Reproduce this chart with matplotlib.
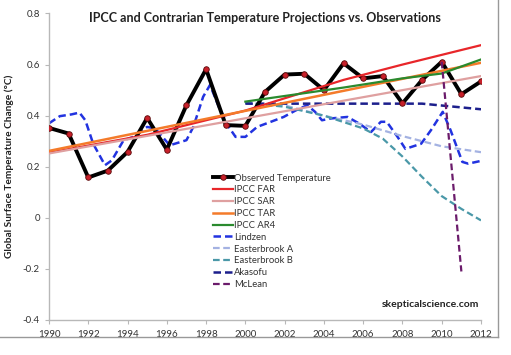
import matplotlib
matplotlib.use("Agg")
import matplotlib.pyplot as plt
from matplotlib.lines import Line2D

plt.rcParams["font.family"] = ["Lato", "DejaVu Sans"]

# ── Data ────────────────────────────────────────────────────────────────────
obs_years = list(range(1990, 2013))
obs_temp = [0.352, 0.33, 0.158, 0.185, 0.258, 0.391, 0.267, 0.441, 0.582, 0.363,
            0.36, 0.493, 0.561, 0.564, 0.50, 0.605, 0.546, 0.555, 0.448, 0.54,
            0.611, 0.484, 0.534]

far_years = [1990, 1995, 2000, 2005, 2008, 2012]
far_temp = [0.255, 0.325, 0.42, 0.54, 0.60, 0.676]

sar_years = [1990, 2012]
sar_temp = [0.252, 0.555]

tar_years = [1990, 2012]
tar_temp = [0.262, 0.607]

ar4_years = [2000, 2005, 2008, 2010, 2012]
ar4_temp = [0.455, 0.51, 0.546, 0.565, 0.62]

lindzen_years = [1990.0, 1990.55, 1991.15, 1991.55, 1991.85, 1992.25, 1992.85, 1993.2,
                 1993.8, 1994.3, 1995.0, 1995.4, 1996.15, 1997.0, 1997.35, 1997.85,
                 1998.2, 1998.65, 1999.15, 1999.5, 2000.0, 2000.6, 2001.3, 2001.95,
                 2002.55, 2003.15, 2003.55, 2003.9, 2004.35, 2005.2, 2005.8, 2006.4,
                 2006.9, 2007.2, 2007.75, 2008.15, 2008.95, 2009.45, 2010.05, 2010.45,
                 2011.05, 2011.35, 2012.0]
lindzen_temp = [0.37, 0.398, 0.405, 0.412, 0.382, 0.29, 0.206, 0.225,
                0.304, 0.317, 0.356, 0.35, 0.284, 0.304, 0.356, 0.474,
                0.52, 0.434, 0.356, 0.317, 0.317, 0.356, 0.376, 0.395,
                0.42, 0.441, 0.415, 0.382, 0.389, 0.395, 0.369, 0.336,
                0.376, 0.376, 0.317, 0.27, 0.29, 0.343, 0.415, 0.343,
                0.219, 0.212, 0.223]

eastA_years = [2000, 2002, 2004, 2006, 2008, 2010, 2012]
eastA_temp = [0.45, 0.44, 0.40, 0.365, 0.32, 0.28, 0.257]

eastB_years = [2000, 2002, 2004, 2006, 2007, 2008, 2009, 2010, 2011, 2012]
eastB_temp = [0.45, 0.435, 0.40, 0.35, 0.31, 0.24, 0.16, 0.085, 0.035, -0.01]

akasofu_years = [2000, 2009, 2012]
akasofu_temp = [0.447, 0.447, 0.425]

mclean_years = [2010, 2011]
mclean_temp = [0.611, -0.21]

# ── Styling ─────────────────────────────────────────────────────────────────
_RED = "#e8262a"
_PINK = "#dfa0a0"
_ORANGE = "#f47b2a"
_GREEN = "#2a8a2e"
_BLUE = "#2233e0"
_LIGHTBLUE = "#a4b2e2"
_TEAL = "#4a98a8"
_NAVY = "#1c1f8c"
_PURPLE = "#6b1b6b"
_SPINE = "#b8b8b8"
_TEXT = "#333333"

fig = plt.figure(figsize=(5.11, 3.55), dpi=100)
ax = fig.add_axes([0.0959, 0.0986, 0.8454, 0.8634])

dash = (0, (3, 1.6))
ax.plot(obs_years, obs_temp, color="black", lw=2.8, marker="o", ms=4,
        mfc="#c8202a", mec="#5a0a0a", mew=0.6, zorder=3, label="Observed Temperature")
ax.plot(far_years, far_temp, color=_RED, lw=1.6, zorder=4, label="IPCC FAR")
ax.plot(sar_years, sar_temp, color=_PINK, lw=1.6, zorder=4, label="IPCC SAR")
ax.plot(tar_years, tar_temp, color=_ORANGE, lw=1.8, zorder=4, label="IPCC TAR")
ax.plot(ar4_years, ar4_temp, color=_GREEN, lw=1.6, zorder=4, label="IPCC AR4")
ax.plot(lindzen_years, lindzen_temp, color=_BLUE, lw=1.8, ls=dash, zorder=2, label="Lindzen")
ax.plot(eastA_years, eastA_temp, color=_LIGHTBLUE, lw=1.6, ls=dash, zorder=2, label="Easterbrook A")
ax.plot(eastB_years, eastB_temp, color=_TEAL, lw=1.6, ls=dash, zorder=2, label="Easterbrook B")
ax.plot(akasofu_years, akasofu_temp, color=_NAVY, lw=1.8, ls=dash, zorder=2, label="Akasofu")
ax.plot(mclean_years, mclean_temp, color=_PURPLE, lw=1.6, ls=dash, zorder=5, label="McLean")

ax.set_xlim(1990, 2012)
ax.set_ylim(-0.4, 0.8)
ax.set_xticks(range(1990, 2013, 2))
ax.set_yticks([-0.4, -0.2, 0, 0.2, 0.4, 0.6, 0.8])
ax.set_yticklabels(["-0.4", "-0.2", "0", "0.2", "0.4", "0.6", "0.8"])
ax.tick_params(labelsize=7, colors=_SPINE, labelcolor=_TEXT, length=3, width=0.8)
ax.tick_params(axis="x", pad=4)
for s in ("top", "right"):
    ax.spines[s].set_visible(False)
for s in ("left", "bottom"):
    ax.spines[s].set_color(_SPINE)
    ax.spines[s].set_linewidth(1.0)

ax.set_ylabel("Global Surface Temperature Change (°C)", fontsize=7.3,
              fontweight="bold", color="#222222")
ax.yaxis.set_label_coords(-0.08, 0.5)
ax.set_title("IPCC and Contrarian Temperature Projections vs. Observations",
             fontsize=9, fontweight="bold", color="#222222", pad=-6, y=1.0)

leg = ax.legend(loc="upper left", bbox_to_anchor=(0.37, 0.49), frameon=False,
                fontsize=6.8, handlelength=2.2, handletextpad=0.1,
                labelspacing=0.3, borderaxespad=0)
for t in leg.get_texts():
    t.set_color(_TEXT)

ax.text(0.995, 0.035, "skepticalscience.com", transform=ax.transAxes,
        ha="right", va="bottom", fontsize=7.5, fontweight="bold", color="#222222")

# chart-area frame (right and bottom edges)
fig.add_artist(Line2D([498 / 511, 498 / 511], [1 - 337 / 355, 1.0],
                      transform=fig.transFigure, color="#999999", lw=1))
fig.add_artist(Line2D([0, 498 / 511], [1 - 337 / 355, 1 - 337 / 355],
                      transform=fig.transFigure, color="#999999", lw=1))

fig.savefig("out.png", dpi=100)
